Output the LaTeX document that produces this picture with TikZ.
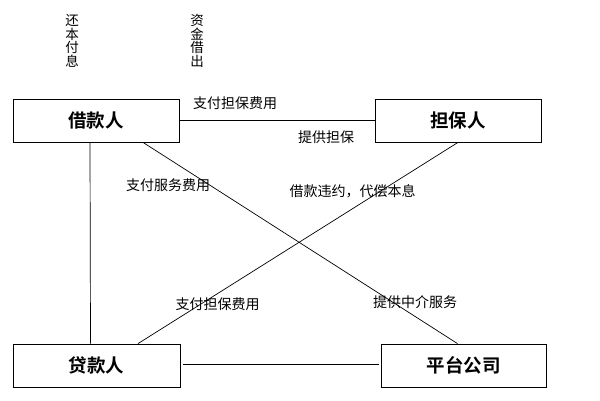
\documentclass[tikz,border=0pt]{standalone}
\usepackage{fontspec}
\newfontfamily\cjk{Noto Sans CJK SC}
\newfontfamily\cjkb{Noto Sans CJK SC Bold}
\begin{document}
\begin{tikzpicture}[x=1pt,y=-1pt,
  party/.style={draw,line width=0.8pt,minimum height=43pt,inner sep=0pt,font=\cjkb\fontsize{18.5}{18.5}\selectfont},
  lbl/.style={inner sep=0pt,font=\cjk\fontsize{14}{14}\selectfont},
  vlbl/.style={inner sep=0pt,align=center,font=\cjk\fontsize{13.5}{13.7}\selectfont},
  conn/.style={line width=0.7pt}]
\useasboundingbox (0,0) rectangle (600,401);
% boxes
\node[party,minimum width=166pt] (jk) at (96,120.5) {借款人};
\node[party,minimum width=166pt] (db) at (458,120.5) {担保人};
\node[party,minimum width=167pt] (dk) at (96.5,365.5) {贷款人};
\node[party,minimum width=165pt] (pt) at (463.5,365.5) {平台公司};
% connectors
\draw[conn] (jk.east) -- (db.west);
\draw[conn] ([xshift=-6]jk.south) -- ([xshift=-6]dk.north);
\draw[conn] ([xshift=47]jk.south) -- ([xshift=-6]pt.north);
\draw[conn] (db.south) -- ([xshift=41.5]dk.north);
\draw[conn,shorten <=3pt,shorten >=2pt] ([yshift=1.5]dk.east) -- ([yshift=1.5]pt.west);
% labels
\node[vlbl] (l1) at (72,41) {还\\本\\付\\息};
\node[vlbl] (l2) at (197,41) {资\\金\\借\\出};
\node[lbl] (l3) at (235,103) {支付担保费用};
\node[lbl] (l4) at (326,137) {提供担保};
\node[lbl] (l5) at (168,185) {支付服务费用};
\node[lbl] (l6) at (352.5,191) {借款违约，代偿本息};
\node[lbl] (l7) at (217.5,304) {支付担保费用};
\node[lbl] (l8) at (415,302) {提供中介服务};
\end{tikzpicture}
\end{document}
